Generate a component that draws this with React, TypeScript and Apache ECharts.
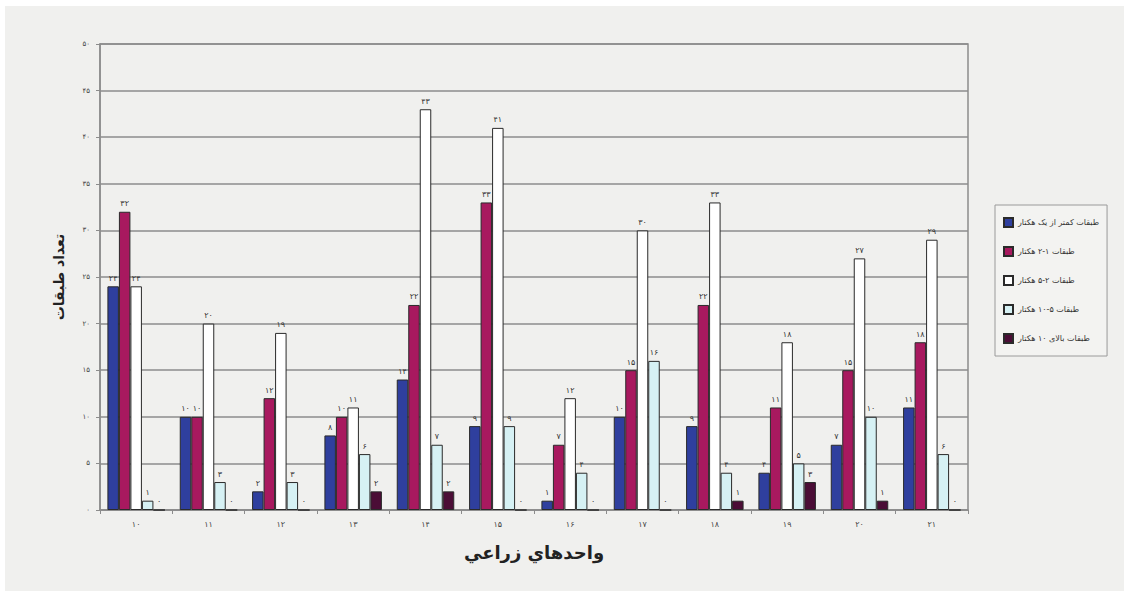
import React, { useEffect, useRef } from "react";
import * as echarts from "echarts";

// Farm units (category axis) and farm-size classes (series)
const units = [10, 11, 12, 13, 14, 15, 16, 17, 18, 19, 20, 21];
const seriesNames = [
  "طبقات کمتر از یک هکتار",
  "طبقات ۱-۲ هکتار",
  "طبقات ۲-۵ هکتار",
  "طبقات ۵-۱۰ هکتار",
  "طبقات بالای ۱۰ هکتار",
];
const lessThan1 = [24, 10, 2, 8, 14, 9, 1, 10, 9, 4, 7, 11];
const from1to2 = [32, 10, 12, 10, 22, 33, 7, 15, 22, 11, 15, 18];
const from2to5 = [24, 20, 19, 11, 43, 41, 12, 30, 33, 18, 27, 29];
const from5to10 = [1, 3, 3, 6, 7, 9, 4, 16, 4, 5, 10, 6];
const over10 = [0, 0, 0, 2, 2, 0, 0, 0, 1, 3, 1, 0];
const yTicks = [0, 5, 10, 15, 20, 25, 30, 35, 40, 45, 50];

const seriesColors = ["#2f3f9e", "#a8195f", "#ffffff", "#d6f1f4", "#4b0d36"];

const faDigits = "۰۱۲۳۴۵۶۷۸۹";
const toFa = (v: number | string) =>
  String(v).replace(/[0-9]/g, (d) => faDigits[Number(d)]);

const FA_FONT = "'DejaVu Sans', sans-serif";

export default function App() {
  const ref = useRef<HTMLDivElement>(null);

  useEffect(() => {
    if (!ref.current) return;
    const chart = echarts.init(ref.current, undefined, { renderer: "svg" });
    const values = [lessThan1, from1to2, from2to5, from5to10, over10];

    chart.setOption({
      animation: false,
      backgroundColor: "#ffffff",
      textStyle: { fontFamily: FA_FONT },
      graphic: [
        {
          type: "rect",
          z: -10,
          shape: { x: 5, y: 6, width: 1119, height: 585 },
          style: { fill: "#f0f0ee" },
        },
      ],
      grid: {
        left: 100,
        right: 156,
        top: 44,
        bottom: 81,
        show: true,
        borderColor: "#8c8c8c",
        borderWidth: 1.5,
        backgroundColor: "transparent",
      },
      legend: {
        orient: "vertical",
        left: 995,
        top: 205,
        width: 108,
        padding: [12, 8, 12, 8],
        itemGap: 18,
        itemWidth: 9,
        itemHeight: 9,
        icon: "rect",
        backgroundColor: "#f3f3f1",
        borderColor: "#9a9a9a",
        borderWidth: 1,
        textStyle: { fontSize: 8, color: "#333", fontFamily: FA_FONT },
        data: seriesNames,
      },
      xAxis: {
        type: "category",
        data: units,
        name: "واحدهاي زراعي",
        nameLocation: "middle",
        nameGap: 33,
        nameTextStyle: {
          fontSize: 18,
          fontWeight: "bold",
          color: "#222",
          fontFamily: FA_FONT,
        },
        axisLine: { lineStyle: { color: "#8c8c8c", width: 1.5 } },
        axisTick: { show: true, length: 4, lineStyle: { color: "#8c8c8c" } },
        axisLabel: {
          fontSize: 8,
          color: "#444",
          margin: 10,
          formatter: (v: string) => toFa(v),
        },
      },
      yAxis: {
        type: "value",
        min: 0,
        max: 50,
        interval: 5,
        name: "تعداد طبقات",
        nameLocation: "middle",
        nameRotate: 90,
        nameGap: 34,
        nameTextStyle: {
          fontSize: 14,
          fontWeight: "bold",
          color: "#222",
          fontFamily: FA_FONT,
        },
        axisLine: { show: true, lineStyle: { color: "#8c8c8c", width: 1.5 } },
        axisTick: { show: true, length: 4, lineStyle: { color: "#8c8c8c" } },
        splitLine: { lineStyle: { color: "#8c8c8c", width: 1.5 } },
        axisLabel: {
          fontSize: 7,
          color: "#444",
          margin: 10,
          formatter: (v: number) =>
            yTicks.includes(v) ? toFa(v) : "",
        },
      },
      series: seriesNames.map((name, i) => ({
        name,
        type: "bar",
        data: values[i],
        barWidth: 11.5,
        barGap: "0%",
        itemStyle: {
          color: seriesColors[i],
          borderColor: "#2a2a2a",
          borderWidth: 1,
        },
        label: {
          show: true,
          position: "top",
          distance: 4,
          fontSize: 8,
          color: "#333",
          fontFamily: FA_FONT,
          formatter: (p: { value: number }) => toFa(p.value),
        },
      })),
    });

    return () => chart.dispose();
  }, []);

  return (
    <div
      ref={ref}
      style={{ position: "fixed", left: 0, top: 0, width: 1124, height: 591 }}
    />
  );
}
